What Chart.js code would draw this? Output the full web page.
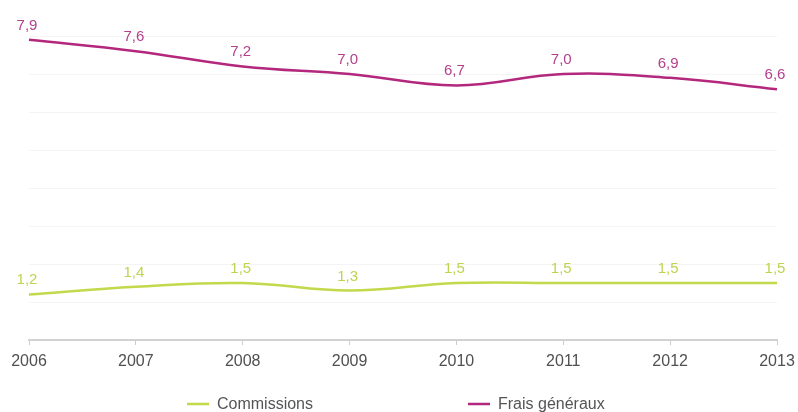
<!DOCTYPE html>
<html lang="fr">
<head>
<meta charset="utf-8">
<title>Commissions et frais généraux</title>
<script src="https://cdn.jsdelivr.net/npm/chart.js@4"></script>
<style>
  html, body { margin: 0; padding: 0; background: #ffffff; }
  #wrap { width: 798px; height: 412px; position: relative; }
</style>
</head>
<body>
<div id="wrap"><canvas id="chart"></canvas></div>
<script>
// Years on the horizontal axis
const years = ['2006', '2007', '2008', '2009', '2010', '2011', '2012', '2013'];
// Series values
const commissions = [1.2, 1.4, 1.5, 1.3, 1.5, 1.5, 1.5, 1.5];
const fraisGeneraux = [7.9, 7.6, 7.2, 7.0, 6.7, 7.0, 6.9, 6.6];
// Series names
const seriesNames = ['Commissions', 'Frais généraux'];

const FONT = '"Liberation Sans", Arial, Helvetica, sans-serif';
const GREEN = '#c3d84a';
const PINK = '#b3287d';
const GREEN_LABEL = '#bdd452';
const PINK_LABEL = '#b4418c';

const fmt = v => v.toFixed(1).replace('.', ',');

// Value labels above each point
const valueLabels = {
  id: 'valueLabels',
  afterDatasetsDraw(chart) {
    const ctx = chart.ctx;
    ctx.save();
    ctx.font = '15px ' + FONT;
    ctx.textAlign = 'center';
    ctx.textBaseline = 'alphabetic';
    chart.data.datasets.forEach((ds, i) => {
      const meta = chart.getDatasetMeta(i);
      ctx.fillStyle = ds.labelColor;
      meta.data.forEach((pt, j) => {
        ctx.fillText(fmt(ds.data[j]), pt.x - 2, pt.y - 10);
      });
    });
    ctx.restore();
  }
};

// Legend drawn as a short line followed by the series name, spread apart
const spreadLegend = {
  id: 'spreadLegend',
  afterDraw(chart) {
    const ctx = chart.ctx;
    ctx.save();
    ctx.font = '16px ' + FONT;
    ctx.textBaseline = 'middle';
    const lineW = 22, textGap = 8, itemGap = 155;
    const items = chart.data.datasets.map(ds => ({
      label: ds.label, color: ds.borderColor,
      w: lineW + textGap + ctx.measureText(ds.label).width
    }));
    const total = items.reduce((s, it) => s + it.w, 0) + itemGap * (items.length - 1);
    let x = Math.round(chart.width / 2 - total / 2) - 3;
    const y = 404;
    items.forEach(it => {
      ctx.strokeStyle = it.color;
      ctx.lineWidth = 2.5;
      ctx.beginPath();
      ctx.moveTo(x, y);
      ctx.lineTo(x + lineW, y);
      ctx.stroke();
      ctx.fillStyle = '#555555';
      ctx.fillText(it.label, x + lineW + textGap, y + 1);
      x += it.w + itemGap;
    });
    ctx.restore();
  }
};

new Chart(document.getElementById('chart'), {
  type: 'line',
  data: {
    labels: years,
    datasets: [
      {
        label: seriesNames[0],
        data: commissions,
        borderColor: GREEN,
        labelColor: GREEN_LABEL,
        borderWidth: 2.5,
        tension: 0.4,
        pointRadius: 0,
        fill: false
      },
      {
        label: seriesNames[1],
        data: fraisGeneraux,
        borderColor: PINK,
        labelColor: PINK_LABEL,
        borderWidth: 2.5,
        tension: 0.4,
        pointRadius: 0,
        fill: false
      }
    ]
  },
  options: {
    responsive: true,
    maintainAspectRatio: false,
    animation: false,
    layout: { padding: { left: 29, right: 21, top: 36, bottom: 42 } },
    plugins: {
      legend: { display: false },
      tooltip: { enabled: false }
    },
    scales: {
      x: {
        offset: false,
        grid: { display: true, drawOnChartArea: false, drawTicks: true, tickLength: 5, color: '#cccccc' },
        border: { display: true, color: '#d2d2d2', width: 2 },
        ticks: { color: '#505050', font: { family: FONT, size: 16 }, padding: 7, maxRotation: 0, autoSkip: false },
        afterFit(s) { s.height = 30; s.paddingLeft = 0; s.paddingRight = 0; }
      },
      y: {
        min: 0,
        max: 8,
        ticks: { display: false, stepSize: 1 },
        grid: { color: '#f4f4f4', drawTicks: false },
        border: { display: false },
        afterFit(s) { s.width = 0; }
      }
    }
  },
  plugins: [valueLabels, spreadLegend]
});
</script>
</body>
</html>
